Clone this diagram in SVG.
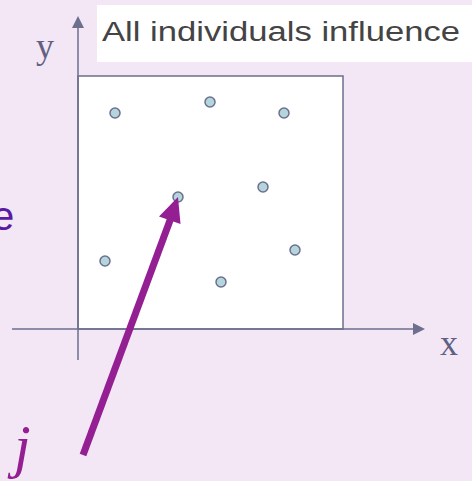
<svg xmlns="http://www.w3.org/2000/svg" width="472" height="481" viewBox="0 0 472 481">
<style>
.dot{fill:#b5d5dd;stroke:#6c6f8e;stroke-width:1.5}
.axis{stroke:#6c6f8e;stroke-width:1.5;fill:none}
.axlbl{font-family:"Liberation Serif",serif;font-size:36px;fill:#5f6082}
</style>
<defs>
<marker id="ah" markerWidth="12" markerHeight="12" refX="2" refY="6" orient="auto" markerUnits="userSpaceOnUse">
<path d="M0,0 L12,6 L0,12 Z" fill="#6c6f8e"/>
</marker>
</defs>
<rect width="472" height="481" fill="#f3e7f5"/>
<g id="title">
<rect x="97" y="5" width="375" height="57" fill="#ffffff"/>
<text x="102" y="41" font-family="'Liberation Sans',sans-serif" font-size="27" fill="#444444" textLength="358" lengthAdjust="spacingAndGlyphs">All individuals influence</text>
</g>
<text x="-8" y="230" font-family="'Liberation Sans',sans-serif" font-size="40" fill="#5a1aa0">e</text>
<g id="plane">
<rect x="78" y="76" width="265" height="253" fill="#ffffff" stroke="#6c6f8e" stroke-width="1.5"/>
</g>
<g id="axes">
<line class="axis" x1="12" y1="329" x2="415" y2="329" marker-end="url(#ah)"/>
<line class="axis" x1="78" y1="360" x2="78" y2="26" marker-end="url(#ah)"/>
<text class="axlbl" x="36" y="58">y</text>
<text class="axlbl" x="440" y="355">x</text>
</g>
<g id="dots">
<circle class="dot" cx="115" cy="113" r="5"/>
<circle class="dot" cx="210" cy="102" r="5"/>
<circle class="dot" cx="284" cy="113" r="5"/>
<circle class="dot" cx="263" cy="187" r="5"/>
<circle class="dot" cx="178" cy="197" r="5"/>
<circle class="dot" cx="105" cy="261" r="5"/>
<circle class="dot" cx="295" cy="250" r="5"/>
<circle class="dot" cx="221" cy="282" r="5"/>
</g>
<g id="connectors">
<line x1="83" y1="455" x2="172" y2="215" stroke="#931f93" stroke-width="7"/>
<polygon points="178,197 180.5,224 159,216.5" fill="#931f93"/>
</g>
<text x="14" y="466" font-family="'Liberation Serif',serif" font-style="italic" font-size="60" fill="#931f93">j</text>
</svg>
